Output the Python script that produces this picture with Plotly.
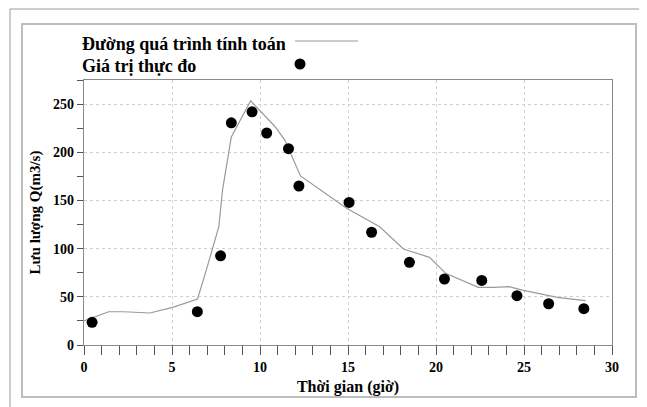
import plotly.graph_objects as go

# Computed hydrograph (line)
calc_t = [0, 1.4, 2.27, 3.75, 5.04, 6.45, 6.89, 7.66, 7.87, 8.37, 9.47, 10.86, 11.41,
          12.3, 14.92, 16.8, 18.15, 19.63, 20.55, 22.4, 23.3, 24.15, 24.9, 26.9, 27.85, 28.5]
calc_q = [25, 34.5, 34.5, 33.2, 39, 47.7, 74, 122.7, 160.8, 216, 253.4, 226.5, 212.7,
          175.5, 141.8, 122.7, 99.6, 91, 74.4, 59.8, 59.8, 60.5, 57, 49.5, 47.4, 46]

# Observed values (points)
obs_t = [0.46, 6.44, 7.76, 8.37, 9.55, 10.38, 11.62, 12.21, 15.06, 16.34, 18.49,
         20.48, 22.6, 24.6, 26.4, 28.4]
obs_q = [23.5, 34.6, 92.6, 230.6, 242, 220, 203.7, 165, 148, 117, 85.8,
         68.5, 67, 51.2, 42.8, 37.7]

legend_labels = ["Đường quá trình tính toán", "Giá trị thực đo"]
x_title = "Thời gian (giờ)"
y_title = "Lưu lượng Q(m3/s)"

OFF = 8  # page body margin
W, H = 647 - OFF, 407 - OFF
L, R, T, B = 84 - OFF, 612 - OFF, 80 - OFF, 345 - OFF
FONT = "Liberation Serif"


def px(x):
    return (x - OFF - L) / (R - L)


def py(y):
    return (B - (y - OFF)) / (B - T)


fig = go.Figure()
fig.add_trace(go.Scatter(x=calc_t, y=calc_q, mode="lines",
                         line=dict(color="#9a9a9a", width=1.2),
                         showlegend=False, hoverinfo="skip"))
fig.add_trace(go.Scatter(x=obs_t, y=obs_q, mode="markers",
                         marker=dict(color="black", size=11),
                         showlegend=False))

axis_common = dict(
    showline=True, linecolor="#8a8a8a", linewidth=1.2, mirror=True,
    ticks="outside", tickcolor="#555", tickwidth=1,
    showgrid=True, gridcolor="#d0d0d0", griddash="dot", gridwidth=1,
    zeroline=False,
    tickfont=dict(family=FONT, size=14, color="black", weight="bold"),
)

fig.update_xaxes(range=[0, 30], tickvals=[0, 5, 10, 15, 20, 25, 30], ticklen=9,
                 minor=dict(dtick=1, ticks="outside", ticklen=9, tickcolor="#555", showgrid=False),
                 title=dict(text=x_title, font=dict(family=FONT, size=16, color="black", weight="bold"),
                            standoff=6),
                 **axis_common)
fig.update_yaxes(range=[0, 275], tickvals=[0, 50, 100, 150, 200, 250], ticklen=6,
                 minor=dict(dtick=25, ticks="outside", ticklen=6, tickcolor="#555", showgrid=False),
                 title=dict(text=y_title, font=dict(family=FONT, size=15, color="black", weight="bold"),
                            standoff=8),
                 **axis_common)

shapes = [
    # outer partial frame
    dict(type="line", xref="paper", yref="paper", x0=px(10), x1=px(647), y0=py(9), y1=py(9),
         line=dict(color="#9a9a9a", width=1)),
    dict(type="line", xref="paper", yref="paper", x0=px(10), x1=px(10), y0=py(9), y1=py(407),
         line=dict(color="#9a9a9a", width=1)),
    # inner frame
    dict(type="rect", xref="paper", yref="paper", x0=px(22), x1=px(636), y0=py(24), y1=py(397),
         line=dict(color="#bdbdbd", width=2)),
    # legend line sample
    dict(type="line", xref="paper", yref="paper", x0=px(295), x1=px(358), y0=py(41), y1=py(41),
         line=dict(color="#9a9a9a", width=1.2)),
    # legend marker sample
    dict(type="circle", xref="paper", yref="paper", xsizemode="pixel", ysizemode="pixel",
         xanchor=px(300), yanchor=py(64), x0=-5.5, x1=5.5, y0=-5.5, y1=5.5,
         fillcolor="black", line=dict(color="black", width=0)),
]

annotations = [
    dict(text=legend_labels[0], xref="paper", yref="paper", x=px(80), y=py(44),
         xanchor="left", yanchor="middle", showarrow=False,
         font=dict(family=FONT, size=18, color="black", weight="bold")),
    dict(text=legend_labels[1], xref="paper", yref="paper", x=px(80), y=py(66),
         xanchor="left", yanchor="middle", showarrow=False,
         font=dict(family=FONT, size=18, color="black", weight="bold")),
]

fig.update_layout(
    width=W, height=H,
    margin=dict(l=L, r=W - R, t=T, b=H - B, pad=0),
    paper_bgcolor="white", plot_bgcolor="white",
    shapes=shapes, annotations=annotations,
    showlegend=False,
)

fig.write_html("out.html")
